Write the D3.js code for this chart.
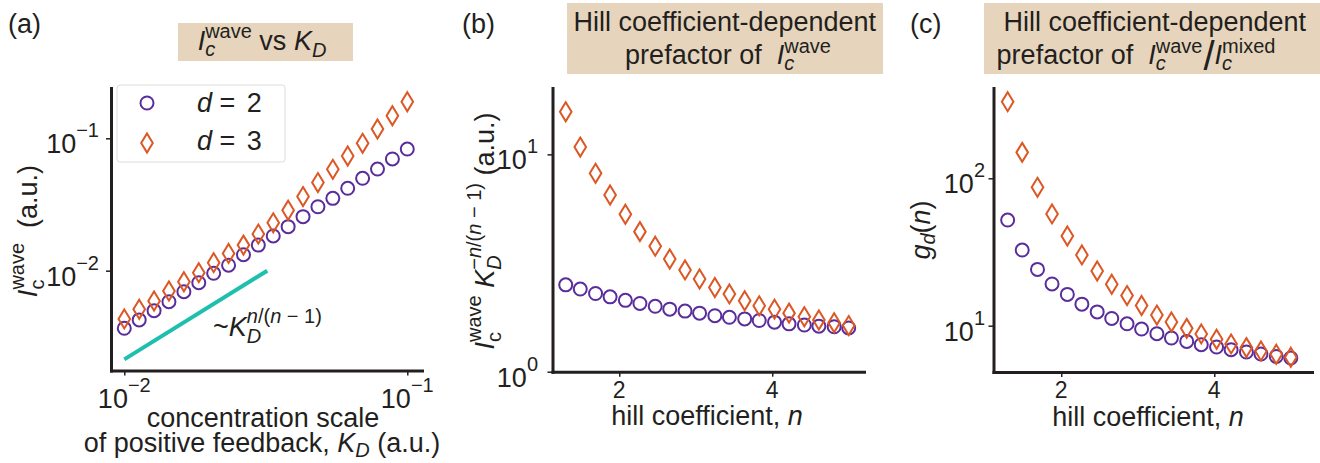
<!DOCTYPE html>
<html>
<head>
<meta charset="utf-8">
<title>Ic wave vs KD</title>
<script src="https://cdnjs.cloudflare.com/ajax/libs/d3/7.8.5/d3.min.js"></script>
<style>
  body { margin: 0; background: #fff; }
  svg text { font-family: "Liberation Sans", Arial, sans-serif; fill: #231f20; white-space: pre; }
  .axis path { stroke: #231f20; stroke-width: 3; stroke-linecap: square; }
  .axis line { stroke: #231f20; stroke-width: 1.5; }
</style>
</head>
<body>
<svg id="fig" width="1320" height="463"></svg>
<script>
// ---- data ----
// (a) critical intensity vs K_D
var kD = [0.01, 0.01129, 0.01274, 0.01438, 0.01624, 0.01833, 0.02069, 0.02336, 0.02637, 0.02976,
          0.0336, 0.03793, 0.04281, 0.04833, 0.05456, 0.06158, 0.06952, 0.07848, 0.08859, 0.1];
var icWave2 = [0.00367, 0.00425, 0.00499, 0.00583, 0.00694, 0.00811, 0.00956, 0.0110, 0.0132, 0.0156,
               0.0183, 0.0215, 0.0256, 0.0304, 0.0352, 0.0419, 0.0499, 0.0586, 0.0698, 0.0830];
var icWave3 = [0.00432, 0.00511, 0.00590, 0.00702, 0.00825, 0.00966, 0.0115, 0.0135, 0.0156, 0.0189,
               0.0230, 0.0286, 0.0363, 0.0463, 0.0583, 0.0735, 0.0916, 0.1175, 0.148, 0.189];
var guideK = [0.01, 0.032];
var guideI = [0.00214, 0.01];

// (b), (c) versus hill coefficient
var hillN = [1.3, 1.49, 1.69, 1.88, 2.08, 2.27, 2.47, 2.66, 2.86, 3.05,
             3.25, 3.44, 3.64, 3.83, 4.03, 4.22, 4.42, 4.61, 4.81, 5.0];
var prefB2 = [2.51, 2.40, 2.29, 2.21, 2.13, 2.06, 2.00, 1.94, 1.90, 1.86,
              1.81, 1.78, 1.75, 1.72, 1.69, 1.66, 1.64, 1.62, 1.61, 1.59];
var prefB3 = [15.7, 10.8, 8.18, 6.50, 5.30, 4.41, 3.78, 3.30, 2.94, 2.67,
              2.44, 2.28, 2.12, 2.01, 1.94, 1.86, 1.79, 1.73, 1.68, 1.63];
var gd2 = [52.1, 32.6, 24.1, 19.2, 16.3, 14.0, 12.4, 11.2, 10.3, 9.49,
           8.82, 8.25, 7.82, 7.43, 7.16, 6.87, 6.63, 6.42, 6.19, 6.03];
var gd3 = [331, 150, 86.9, 57.3, 40.6, 30.2, 23.5, 19.1, 16.0, 13.7,
           11.8, 10.6, 9.59, 8.79, 8.09, 7.52, 7.10, 6.74, 6.40, 6.11];

var ticksA = [0.01, 0.1];
var ticksN = [2, 4];
var ticksB = [1, 10];
var ticksC = [10, 100];

var purple = "#5a2d9c", orange = "#dc5724", teal = "#1fbfae", tan = "#e6d5bc";
var FS = 27, SS = 20;

var svg = d3.select("#fig");

// text with sub/superscripts built from tspans
function rich(parent, x, y, parts, size, anchor) {
  var t = parent.append("text").attr("x", x).attr("y", y).style("font-size", size + "px");
  var cur = 0, prev = null;
  parts.forEach(function(p) {
    var sh = p.sh || 0;
    var ts = t.append("tspan")
      .attr("dy", sh - cur)
      .style("font-size", (p.s || size) + "px")
      .style("font-style", p.i ? "italic" : "normal")
      .text(p.t);
    if (p.back && prev) ts.attr("dx", -prev.node().getComputedTextLength() + (p.dx || 0));
    else if (p.dx) ts.attr("dx", p.dx);
    cur = sh; prev = ts;
  });
  if (anchor) {
    var bb = t.node().getBBox();
    var off = anchor === "middle" ? x - (bb.x + bb.width / 2) : x - (bb.x + bb.width);
    t.attr("transform", "translate(" + off + ",0)");
  }
  return t;
}

function vlabel(cx, cy, parts, size) {
  var g = svg.append("g").attr("transform", "translate(" + cx + "," + cy + ") rotate(-90)");
  rich(g, 0, 0, parts, size, "middle");
}

function axes(x, y, x0, y0, xt, yt) {
  svg.append("g").attr("class", "axis").attr("transform", "translate(0," + y0 + ")")
    .call(d3.axisBottom(x).tickValues(xt).tickSize(5).tickSizeOuter(0).tickFormat(""));
  svg.append("g").attr("class", "axis").attr("transform", "translate(" + x0 + ",0)")
    .call(d3.axisLeft(y).tickValues(yt).tickSize(5).tickSizeOuter(0).tickFormat(""));
}

var diamond = "M0,-9.5L5.8,0L0,9.5L-5.8,0Z";

function series(xs, ys, x, y, kind) {
  var g = svg.append("g");
  if (kind === "circle") {
    g.selectAll("circle").data(ys).join("circle")
      .attr("cx", function(d, i) { return x(xs[i]); })
      .attr("cy", function(d) { return y(d); })
      .attr("r", 6.5).attr("fill", "none").attr("stroke", purple).attr("stroke-width", 2);
  } else {
    g.selectAll("path").data(ys).join("path")
      .attr("d", diamond)
      .attr("transform", function(d, i) { return "translate(" + x(xs[i]) + "," + y(d) + ")"; })
      .attr("fill", "none").attr("stroke", orange).attr("stroke-width", 2);
  }
}

function tenLabel(x, y, e, anchor) {
  var exp = (e < 0 ? "\u2212" : "") + Math.abs(e);
  rich(svg, x, y, [{ t: "10" }, { t: exp, s: SS, sh: -16 }], FS, anchor);
}

// ---------- panel (a) ----------
var xA = d3.scaleLog().domain([Math.pow(10, -2.047), Math.pow(10, -0.948)]).range([111, 422]);
var yA = d3.scaleLog().domain([Math.pow(10, -2.754), Math.pow(10, -0.62)]).range([370.5, 88]);

svg.append("rect").attr("x", 178).attr("y", 23).attr("width", 175).attr("height", 38).attr("fill", tan);
rich(svg, 262, 50, [
  { t: "I", i: true }, { t: "c", i: true, s: SS, sh: 6 }, { t: "wave", s: SS, sh: -12, back: true },
  { t: " vs " }, { t: "K", i: true }, { t: "D", i: true, s: SS, sh: 7 }
], FS, "middle");
rich(svg, 8, 33, [{ t: "(a)" }], FS);

axes(xA, yA, 111, 370.5, ticksA, ticksA);
ticksA.forEach(function(v) {
  tenLabel(xA(v), 408, Math.round(Math.log10(v)), "middle");
  tenLabel(99, yA(v) + 15, Math.round(Math.log10(v)), "end");
});

svg.append("line")
  .attr("x1", xA(guideK[0])).attr("y1", yA(guideI[0]))
  .attr("x2", xA(guideK[1])).attr("y2", yA(guideI[1]))
  .attr("stroke", teal).attr("stroke-width", 4);
rich(svg, 213, 336, [
  { t: "~" }, { t: "K", i: true }, { t: "D", i: true, s: SS, sh: 7 },
  { t: "n", i: true, s: SS, sh: -13, back: true }, { t: "/(", s: SS, sh: -13 },
  { t: "n", i: true, s: SS, sh: -13 }, { t: " \u2212 1)", s: SS, sh: -13 }
], FS);

series(kD, icWave2, xA, yA, "circle");
series(kD, icWave3, xA, yA, "diamond");

// legend
svg.append("rect").attr("x", 117).attr("y", 85).attr("width", 168).attr("height", 77).attr("rx", 3)
  .attr("fill", "#fff").attr("stroke", "#dcdcdc").attr("stroke-width", 1);
svg.append("circle").attr("cx", 147).attr("cy", 103).attr("r", 6.5)
  .attr("fill", "none").attr("stroke", purple).attr("stroke-width", 2);
svg.append("path").attr("d", diamond).attr("transform", "translate(147,143)")
  .attr("fill", "none").attr("stroke", orange).attr("stroke-width", 2);
rich(svg, 197, 112, [{ t: "d", i: true }, { t: " = " }, { t: "2", dx: 4 }], FS);
rich(svg, 197, 150, [{ t: "d", i: true }, { t: " = " }, { t: "3", dx: 4 }], FS);

vlabel(37, 231, [
  { t: "I", i: true }, { t: "c", s: SS, sh: 7 }, { t: "wave", s: SS, sh: -13, back: true },
  { t: "  (a.u.)" }
], FS);
rich(svg, 263, 427, [{ t: "concentration scale" }], FS, "middle");
rich(svg, 262, 452, [
  { t: "of positive feedback, " }, { t: "K", i: true }, { t: "D", i: true, s: SS, sh: 5 },
  { t: " (a.u.)" }
], FS, "middle");

// ---------- panel (b) ----------
var xB = d3.scaleLinear().domain([1.127, 5.2]).range([552.5, 864]);
var yB = d3.scaleLog().domain([1, 20.2]).range([371.7, 88]);

svg.append("rect").attr("x", 567).attr("y", 3).attr("width", 316).attr("height", 71).attr("fill", tan);
rich(svg, 725, 31, [{ t: "Hill coefficient-dependent" }], FS, "middle");
rich(svg, 728, 64, [
  { t: "prefactor of  " }, { t: "I", i: true }, { t: "c", i: true, s: SS, sh: 6 },
  { t: "wave", s: SS, sh: -11, back: true }
], FS, "middle");
rich(svg, 462, 33, [{ t: "(b)" }], FS);

axes(xB, yB, 552.5, 371.7, ticksN, ticksB);
ticksN.forEach(function(v) { rich(svg, xB(v), 398, [{ t: String(v) }], 23, "middle"); });
ticksB.forEach(function(v) { tenLabel(538, yB(v) + 15, Math.round(Math.log10(v)), "end"); });

series(hillN, prefB2, xB, yB, "circle");
series(hillN, prefB3, xB, yB, "diamond");

vlabel(494, 231, [
  { t: "I", i: true }, { t: "c", s: SS, sh: 7 }, { t: "wave", s: SS, sh: -13, back: true },
  { t: " " }, { t: "K", i: true }, { t: "D", i: true, s: SS, sh: 7 },
  { t: "\u2212", s: SS, sh: -13, back: true }, { t: "n", i: true, s: SS, sh: -13 },
  { t: "/(", s: SS, sh: -13 }, { t: "n", i: true, s: SS, sh: -13 }, { t: " \u2212 1)", s: SS, sh: -13 },
  { t: " (a.u.)" }
], FS);
rich(svg, 707, 425, [{ t: "hill coefficient, " }, { t: "n", i: true }], FS, "middle");

// ---------- panel (c) ----------
var xC = d3.scaleLinear().domain([1.115, 5.277]).range([993.5, 1312]);
var yC = d3.scaleLog().domain([4.85, 410]).range([372, 88]);

svg.append("rect").attr("x", 984).attr("y", 3).attr("width", 336).attr("height", 71).attr("fill", tan);
rich(svg, 1155, 31, [{ t: "Hill coefficient-dependent" }], FS, "middle");
rich(svg, 1136, 64, [
  { t: "prefactor of  " }, { t: "I", i: true }, { t: "c", i: true, s: SS, sh: 6 },
  { t: "wave", s: SS, sh: -11, back: true },
  { t: "/", s: 40, sh: 6, dx: 1 },
  { t: "I", i: true, sh: 0 }, { t: "c", i: true, s: SS, sh: 6 },
  { t: "mixed", s: SS, sh: -11, back: true }
], FS, "middle");
rich(svg, 910, 33, [{ t: "(c)" }], FS);

axes(xC, yC, 993.5, 372, ticksN, ticksC);
ticksN.forEach(function(v) { rich(svg, xC(v), 398, [{ t: String(v) }], 23, "middle"); });
ticksC.forEach(function(v) { tenLabel(985, yC(v) + 15, Math.round(Math.log10(v)), "end"); });

series(hillN, gd2, xC, yC, "circle");
series(hillN, gd3, xC, yC, "diamond");

vlabel(930, 230, [
  { t: "g", i: true }, { t: "d", i: true, s: SS, sh: 5 }, { t: "(", sh: 0 }, { t: "n", i: true }, { t: ")" }
], FS);
rich(svg, 1148, 426, [{ t: "hill coefficient, " }, { t: "n", i: true }], FS, "middle");
</script>
</body>
</html>
